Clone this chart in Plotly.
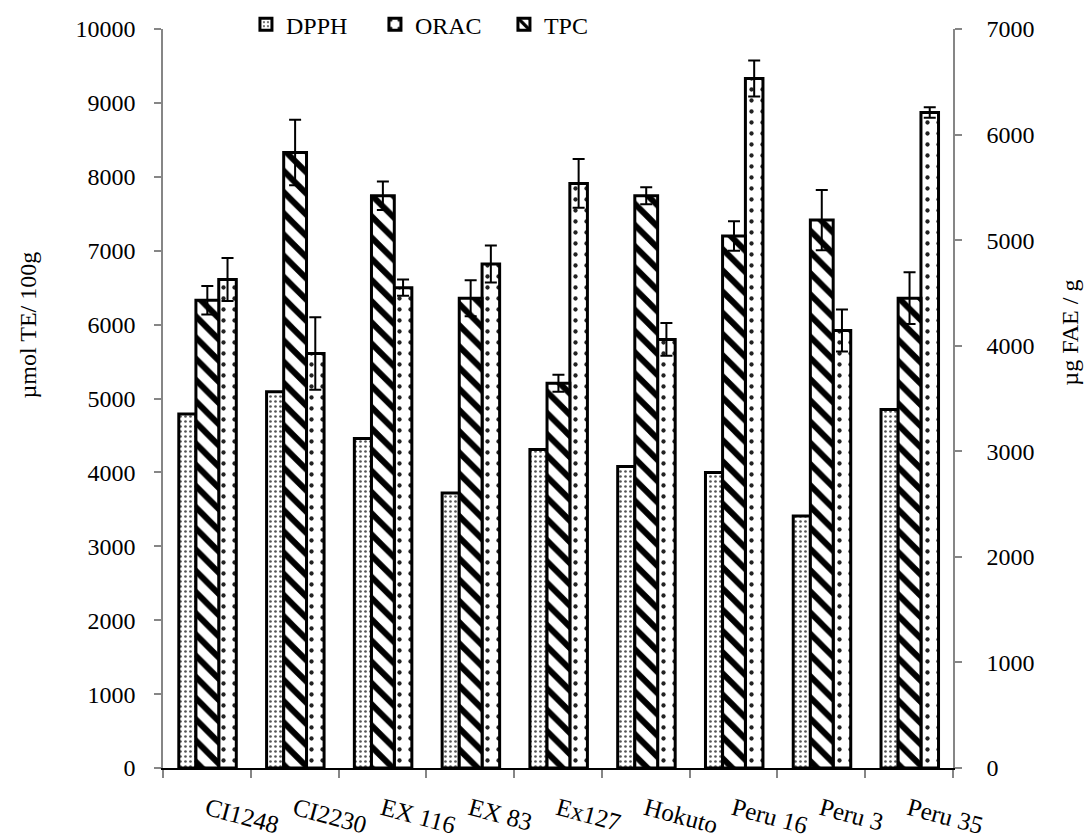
import plotly.graph_objects as go

# Antioxidant capacity per quinoa variety
varieties = ["CI1248", "CI2230", "EX 116", "EX 83", "Ex127",
             "Hokuto", "Peru 16", "Peru 3", "Peru 35"]

# DPPH and ORAC in µmol TE / 100 g (left axis)
dpph = [4790, 5090, 4460, 3720, 4310, 4080, 4000, 3410, 4850]
orac = [6610, 5610, 6500, 6820, 7910, 5800, 9330, 5920, 8870]
orac_sd = [290, 490, 110, 250, 330, 220, 245, 285, 70]

# Total phenolic content in µg FAE / g (right axis)
tpc = [4430, 5830, 5420, 4450, 3645, 5420, 5040, 5190, 4450]
tpc_sd = [135, 310, 135, 170, 80, 80, 140, 285, 245]

FONT = "Liberation Serif, Times New Roman, serif"
OUTLINE = dict(color="black", width=3)
ERR_STYLE = dict(color="black", thickness=2, width=6)

fig = go.Figure()

fig.add_trace(go.Bar(
    name="DPPH", x=varieties, y=dpph,
    offset=-0.32, width=0.195,
    marker=dict(color="white", line=OUTLINE,
                pattern=dict(shape=".", size=5, solidity=0.22, fgopacity=1,
                             fgcolor="#555555", bgcolor="white")),
))
fig.add_trace(go.Bar(
    name="ORAC", x=varieties, y=orac,
    offset=0.135, width=0.2,
    error_y=dict(type="data", array=orac_sd, visible=True, **ERR_STYLE),
    marker=dict(color="white", line=OUTLINE,
                pattern=dict(shape=".", size=11, solidity=0.12, fgopacity=1,
                             fgcolor="#222222", bgcolor="white")),
))
fig.add_trace(go.Bar(
    name="TPC", x=varieties, y=tpc, yaxis="y2",
    offset=-0.125, width=0.26,
    error_y=dict(type="data", array=tpc_sd, visible=True, **ERR_STYLE),
    marker=dict(color="white", line=OUTLINE,
                pattern=dict(shape="\\", size=15, solidity=0.4, fgopacity=1,
                             fgcolor="black", bgcolor="white")),
))

fig.update_layout(
    width=1087, height=840,
    margin=dict(l=163, r=134, t=29, b=72, autoexpand=False),
    paper_bgcolor="white", plot_bgcolor="white",
    barmode="overlay",
    font=dict(family=FONT, size=24, color="black"),
    showlegend=True,
    legend=dict(orientation="h", x=0.105, y=1.006, xanchor="left", yanchor="middle",
                font=dict(family=FONT, size=24), entrywidth=84,
                bgcolor="rgba(0,0,0,0)", itemclick=False),
    xaxis=dict(
        type="category", showgrid=False, showline=True, linecolor="black", linewidth=1.5,
        ticks="outside", tickson="boundaries", ticklen=8, tickcolor="#868686", tickwidth=1.5,
        tickangle=15, tickfont=dict(family=FONT, size=25), ticklabelstandoff=15,
        automargin=False,
    ),
    yaxis=dict(
        range=[0, 10000], dtick=1000, tickformat="d", showgrid=False, zeroline=False,
        showline=True, linecolor="#868686", linewidth=1.5,
        ticks="outside", ticklen=7, tickcolor="#868686", tickwidth=1.5,
        tickfont=dict(family=FONT, size=24), ticklabelstandoff=14, automargin=False,
    ),
    yaxis2=dict(
        range=[0, 7000], dtick=1000, tickformat="d", overlaying="y", side="right",
        showgrid=False, zeroline=False, showline=True, linecolor="#868686", linewidth=1.5,
        ticks="outside", ticklen=7, tickcolor="#868686", tickwidth=1.5,
        tickfont=dict(family=FONT, size=24), ticklabelstandoff=20, automargin=False,
    ),
    annotations=[
        dict(text="µmol TE/ 100g", xref="paper", yref="paper", x=-0.171, y=0.6,
             textangle=-90, showarrow=False, xanchor="center", yanchor="middle",
             font=dict(family=FONT, size=24)),
        dict(text="µg FAE / g", xref="paper", yref="paper", x=1.148, y=0.589,
             textangle=-90, showarrow=False, xanchor="center", yanchor="middle",
             font=dict(family=FONT, size=24)),
    ],
)

fig.write_html("out.html")
